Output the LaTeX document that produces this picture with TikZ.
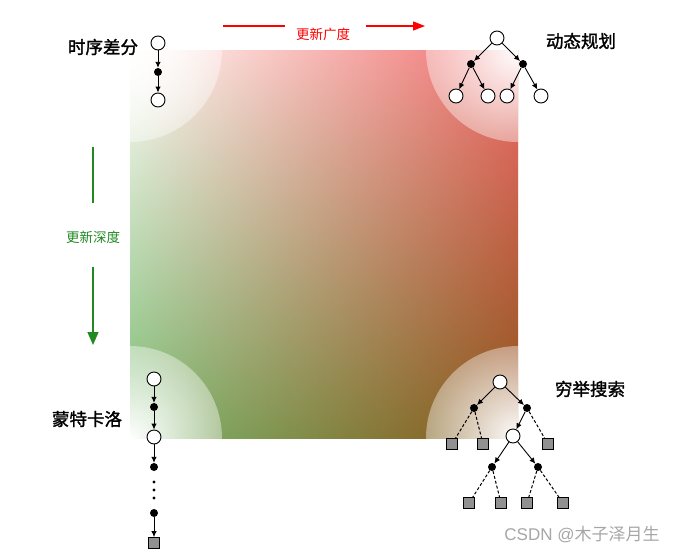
\documentclass[tikz,border=0pt]{standalone}
\usepackage{fontspec}
\newfontfamily\cjk{Noto Sans CJK SC}
\newfontfamily\cjkheavy[AutoFakeBold=1.6]{Noto Sans CJK SC}
\usetikzlibrary{arrows.meta,positioning,fadings}
\definecolor{sqtl}{RGB}{255,252,248}
\definecolor{sqtr}{RGB}{240,108,108}
\definecolor{sqbl}{RGB}{122,186,112}
\definecolor{sqbr}{RGB}{140,84,24}
\definecolor{widthred}{RGB}{255,0,0}
\definecolor{depthgreen}{RGB}{34,136,34}
\definecolor{termgray}{RGB}{145,145,145}
\tikzfading[name=cornerglow, inner color=transparent!0, outer color=transparent!60]
\tikzset{
  snode/.style={circle, draw, fill=white, line width=0.9pt, minimum size=14pt, inner sep=0pt},
  anode/.style={circle, fill=black, minimum size=8pt, inner sep=0pt},
  tnode/.style={rectangle, draw, fill=termgray, line width=0.8pt, minimum size=11pt, inner sep=0pt},
  larr/.style={-{Latex[length=6pt,width=5.5pt]}, line width=0.9pt},
  dline/.style={line width=1pt, dash pattern=on 3pt off 2pt},
  algo/.style={font=\cjkheavy\bfseries\fontsize{17.5}{20}\selectfont, inner sep=0pt},
  axlbl/.style={font=\cjk\fontsize{13.5}{16}\selectfont, inner sep=0pt},
}

\begin{document}
\begin{tikzpicture}[x=1pt,y=-1pt]
\useasboundingbox (0,0) rectangle (682,554);
% colour square
\shade[left color=sqbl, right color=sqbr] (130,50) rectangle (518,438);
\shade[left color=sqtl, right color=sqtr, path fading=south] (130,50) rectangle (518,438);
\begin{scope}
  \clip (130,50) rectangle (518,438);
  \foreach \cx/\cy in {130/50,518/50,130/438,518/438}
    \fill[white, path fading=cornerglow] (\cx,\cy) circle (92pt);
\end{scope}

% update width / depth
\node[axlbl, text=widthred] (wl) at (323,34) {更新广度};
\coordinate (w1) at (223,26);
\coordinate (w2) at (285,26);
\coordinate (w3) at (366,26);
\coordinate (w4) at (425,26);
\draw[widthred, line width=1.3pt] (w1) -- (w2);
\draw[widthred, line width=1.3pt, -{Triangle[length=12pt,width=9pt]}] (w3) -- (w4);
\node[axlbl, text=depthgreen] (dl) at (93,237) {更新深度};
\coordinate (d1) at (93,147);
\coordinate (d2) at (93,203);
\coordinate (d3) at (93,267);
\coordinate (d4) at (93,345);
\draw[depthgreen, line width=1.3pt] (d1) -- (d2);
\draw[depthgreen, line width=1.3pt, -{Triangle[length=13pt,width=11pt]}] (d3) -- (d4);

% 时序差分
\node[snode] (td1) at (158,43) {};
\node[anode] (td2) at (158,72) {};
\node[snode] (td3) at (158,100) {};
\draw[larr] (td1) -- (td2);
\draw[larr] (td2) -- (td3);
\node[algo] (tdl) at (103,47) {时序差分};

% 动态规划
\node[snode] (dp) at (497,38) {};
\node[anode] (dpl) at (471,64) {};
\node[anode] (dpr) at (523,64) {};
\node[snode] (dpll) at (456,96) {};
\node[snode] (dplr) at (488,96) {};
\node[snode] (dprl) at (507,96) {};
\node[snode] (dprr) at (541,96) {};
\foreach \a/\b in {dp/dpl,dp/dpr,dpl/dpll,dpl/dplr,dpr/dprl,dpr/dprr}
  \draw[larr] (\a) -- (\b);
\node[algo] (dpt) at (581,41) {动态规划};

% 蒙特卡洛
\node[snode] (mc1) at (154,379) {};
\node[anode] (mc2) at (154,407) {};
\node[snode] (mc3) at (154,437) {};
\node[anode] (mc4) at (154,467) {};
\node[anode] (mc5) at (154,513) {};
\node[tnode] (mc6) at (154,543) {};
\foreach \a/\b in {mc1/mc2,mc2/mc3,mc3/mc4,mc5/mc6}
  \draw[larr] (\a) -- (\b);
\foreach \y in {482,490,498}
  \fill (154,\y) circle (1.7pt);
\node[algo] (mcl) at (87,419) {蒙特卡洛};

% 穷举搜索
\node[snode] (es) at (500,382) {};
\node[anode] (esl) at (474,408) {};
\node[anode] (esr) at (527,408) {};
\node[tnode] (esll) at (452,444) {};
\node[tnode] (eslr) at (483,444) {};
\node[snode] (esc) at (513,436) {};
\node[tnode] (esrr) at (548,444) {};
\node[anode] (escl) at (492,467) {};
\node[anode] (escr) at (538,467) {};
\node[tnode] (es1) at (469,503) {};
\node[tnode] (es2) at (501,503) {};
\node[tnode] (es3) at (527,503) {};
\node[tnode] (es4) at (563,503) {};
\foreach \a/\b in {es/esl,es/esr,esr/esc,esc/escl,esc/escr}
  \draw[larr] (\a) -- (\b);
\foreach \a/\b in {esl/esll,esl/eslr,esr/esrr,escl/es1,escl/es2,escr/es3,escr/es4}
  \draw[dline] (\a) -- (\b);
\node[algo] (est) at (590,389) {穷举搜索};

\node[font=\fontspec{Liberation Sans}\fontsize{17}{19}\selectfont, text=black!35, inner sep=0pt] (wm) at (582,535) {CSDN @{\cjk 木子泽月生}};
\end{tikzpicture}
\end{document}
